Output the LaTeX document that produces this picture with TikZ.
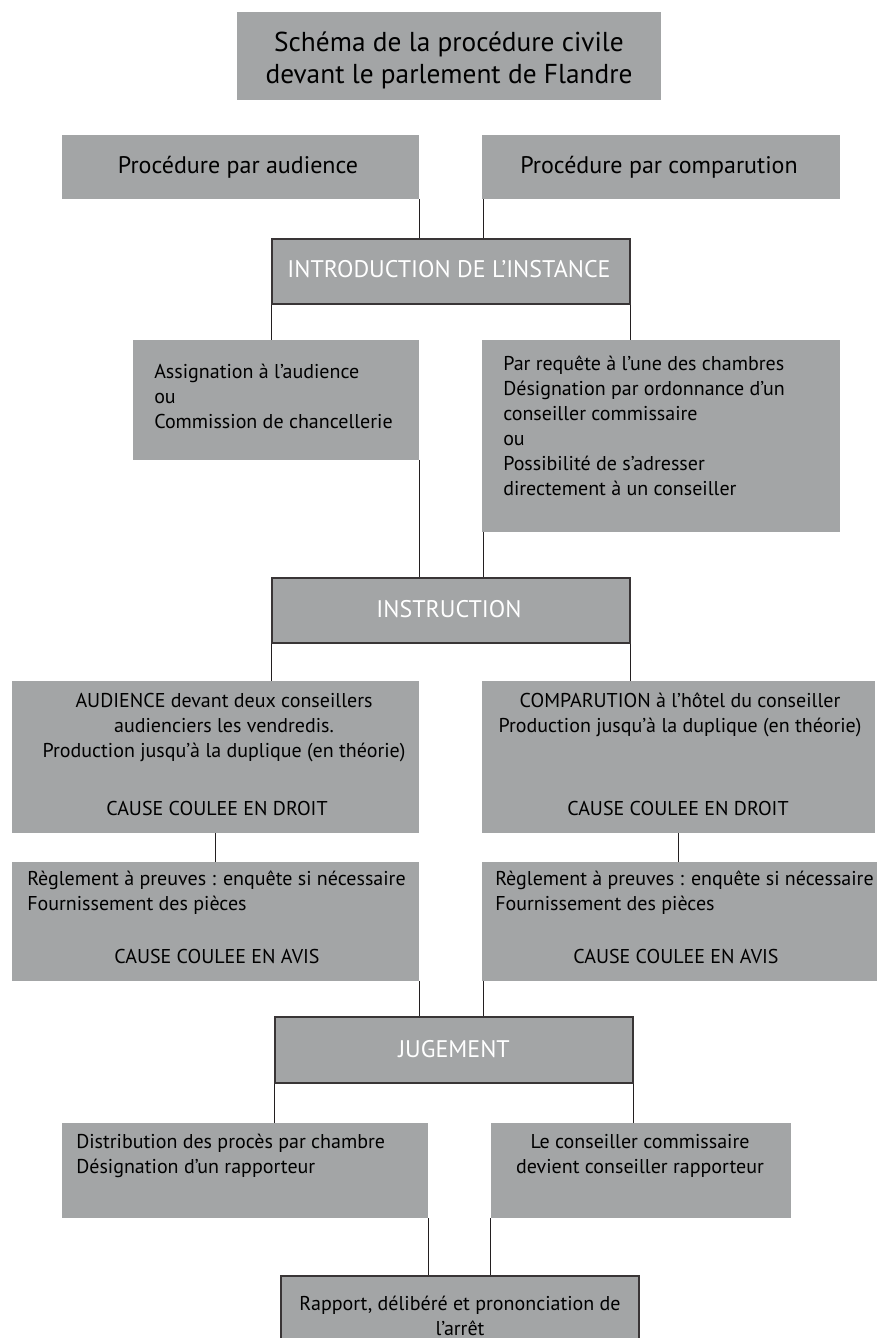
\documentclass[tikz,border=0pt]{standalone}
\usepackage{fontspec}
\setmainfont{PT Sans}
\usepackage{tikz}
\usetikzlibrary{fit}
\definecolor{boxgray}{HTML}{A3A5A6}
\definecolor{inkblack}{HTML}{231F20}
\tikzset{
box/.style={fit={#1}, fill=boxgray, inner sep=0pt, draw=none},
head/.style={box={#1}, draw=inkblack!90, line width=1pt},
link/.style={draw=inkblack, line width=1pt},
titletxt/.style={font=\fontsize{20.5}{24}\selectfont, align=center, anchor=base, inner sep=0pt},
toptxt/.style={font=\fontsize{18}{22}\selectfont, anchor=base, inner sep=0pt},
headtxt/.style={font=\fontsize{18}{22}\selectfont, text=white, anchor=base, inner sep=0pt},
bodytxt/.style={font=\fontsize{15}{18.75}\selectfont, align=left, anchor=base west, inner sep=0pt},
bodyctr/.style={bodytxt, align=center, anchor=base},
}
\begin{document}
\begin{tikzpicture}[x=0.75pt,y=-0.75pt]
\useasboundingbox (0,0) rectangle (878,1338);
\clip (0,0) rectangle (878,1338);
% the boxes
\node[box={(237,12) (661,100)}] (title) {};
\node[box={(62,135) (419,199)}] (paud) {};
\node[box={(482,135) (840,199)}] (pcomp) {};
\node[head={(272,239) (630,304)}] (intro) {};
\node[box={(133,340) (419,460)}] (assign) {};
\node[box={(482,340) (840,532)}] (req) {};
\node[head={(272,578) (630,643)}] (instr) {};
\node[box={(12,681) (419,833)}] (aud) {};
\node[box={(482,681) (875,833)}] (comp) {};
\node[box={(12,862) (419,981)}] (reglL) {};
\node[box={(482,862) (877,981)}] (reglR) {};
\node[head={(275,1017) (633,1083)}] (jug) {};
\node[box={(62,1123) (428,1218)}] (distr) {};
\node[box={(491,1123) (791,1218)}] (cons) {};
\node[head={(281,1276) (639,1360)}] (arret) {};
% the texts (anchored on the last line)
\node[titletxt] (title-t) at (449,84) {Schéma de la procédure civile\\devant le parlement de Flandre};
\node[toptxt] (paud-t) at (238,173) {Procédure par audience};
\node[toptxt] (pcomp-t) at (659,173) {Procédure par comparution};
\node[headtxt] (intro-t) at (449,277) {INTRODUCTION DE L’INSTANCE};
\node[bodytxt] (assign-t) at (154,428) {Assignation à l’audience\\ou\\Commission de chancellerie};
\node[bodytxt] (req-t) at (503,495) {Par requête à l’une des chambres\\Désignation par ordonnance d’un\\conseiller commissaire\\ou\\Possibilité de s’adresser\\directement à un conseiller};
\node[headtxt] (instr-t) at (449,617) {INSTRUCTION};
\node[bodyctr] (aud-t) at (224,757) {AUDIENCE devant deux conseillers\\audienciers les vendredis.\\Production jusqu’à la duplique (en théorie)};
\node[bodyctr] (aud-c) at (217,815) {CAUSE COULEE EN DROIT};
\node[bodyctr] (comp-t) at (680,732) {COMPARUTION à l’hôtel du conseiller\\Production jusqu’à la duplique (en théorie)};
\node[bodyctr] (comp-c) at (678,815) {CAUSE COULEE EN DROIT};
\node[bodytxt] (reglL-t) at (27,910) {Règlement à preuves : enquête si nécessaire\\Fournissement des pièces};
\node[bodyctr] (reglL-c) at (217,963) {CAUSE COULEE EN AVIS};
\node[bodytxt] (reglR-t) at (495,910) {Règlement à preuves : enquête si nécessaire\\Fournissement des pièces};
\node[bodyctr] (reglR-c) at (676,963) {CAUSE COULEE EN AVIS};
\node[headtxt] (jug-t) at (454,1057) {JUGEMENT};
\node[bodytxt] (distr-t) at (76,1173) {Distribution des procès par chambre\\Désignation d’un rapporteur};
\node[bodyctr] (cons-t) at (640,1173) {Le conseiller commissaire\\devient conseiller rapporteur};
\node[bodyctr] (arret-t) at (460,1335) {Rapport, délibéré et prononciation de\\l’arrêt};
% the connectors
\draw[link] (paud.south east) -- (paud.south east |- intro.north);
\draw[link] ([xshift=1.5]pcomp.south west) -- ([xshift=1.5]pcomp.south west |- intro.north);
\draw[link] (intro.south west) -- (intro.south west |- assign.north);
\draw[link] (intro.south east) -- (intro.south east |- req.north);
\draw[link] (assign.south east) -- (assign.south east |- instr.north);
\draw[link] ([xshift=1.5]req.south west) -- ([xshift=1.5]req.south west |- instr.north);
\draw[link] (instr.south west) -- (instr.south west |- aud.north);
\draw[link] (instr.south east) -- (instr.south east |- comp.north);
\draw[link] (aud.south) -- (aud.south |- reglL.north);
\draw[link] (comp.south) -- (comp.south |- reglR.north);
\draw[link] (reglL.south east) -- (reglL.south east |- jug.north);
\draw[link] ([xshift=1.5]reglR.south west) -- ([xshift=1.5]reglR.south west |- jug.north);
\draw[link] (jug.south west) -- (jug.south west |- distr.north);
\draw[link] (jug.south east) -- (jug.south east |- cons.north);
\draw[link] (distr.south east) -- (distr.south east |- arret.north);
\draw[link] (cons.south west) -- (cons.south west |- arret.north);
\end{tikzpicture}
\end{document}
